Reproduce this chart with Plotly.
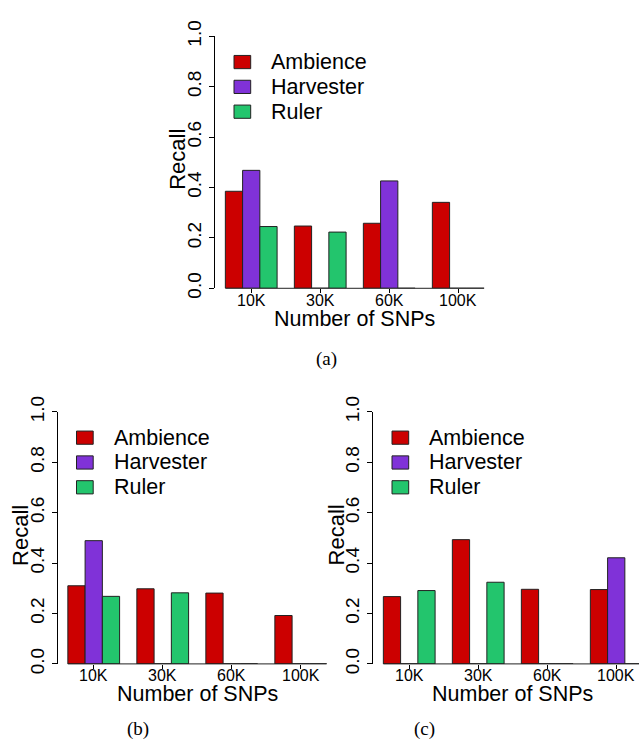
import plotly.graph_objects as go

# ---------------- data ----------------
categories = ["10K", "30K", "60K", "100K"]
series_names = ["Ambience", "Harvester", "Ruler"]
series_colors = ["#CC0000", "#8032D8", "#23C56D"]

recall_a_ambience = [0.385, 0.247, 0.258, 0.341]
recall_a_harvester = [0.468, 0.0, 0.426, 0.0]
recall_a_ruler = [0.245, 0.223, 0.0, 0.0]

recall_b_ambience = [0.310, 0.298, 0.281, 0.192]
recall_b_harvester = [0.489, 0.0, 0.0, 0.0]
recall_b_ruler = [0.268, 0.282, 0.0, 0.0]

recall_c_ambience = [0.267, 0.493, 0.296, 0.295]
recall_c_harvester = [0.0, 0.0, 0.0, 0.421]
recall_c_ruler = [0.291, 0.324, 0.0, 0.0]

y_ticks = [0.0, 0.2, 0.4, 0.6, 0.8, 1.0]
captions = ["(a)", "(b)", "(c)"]

# ---------------- layout helpers ----------------
W, H = 639, 755
UNIT = 17.25          # px per bar width
YSCALE = 261.0        # px per recall unit
FONT = "Liberation Sans, Arial, Helvetica, sans-serif"
SERIF = "Liberation Serif, Times New Roman, serif"


def fx(px):
    return px / W


def fy(py):
    return 1 - py / H


panels = [
    dict(left=215.0, y0=282.0, data=[recall_a_ambience, recall_a_harvester, recall_a_ruler],
         cap=(327, 355)),
    dict(left=57.5, y0=671.0, data=[recall_b_ambience, recall_b_harvester, recall_b_ruler],
         cap=(138, 738)),
    dict(left=373.0, y0=671.0, data=[recall_c_ambience, recall_c_harvester, recall_c_ruler],
         cap=(424, 738)),
]

fig = go.Figure()
shapes = []
annotations = []
layout_axes = {}

n_series = len(series_names)
group_w = n_series + 1
r0 = 0.4

for p_i, p in enumerate(panels):
    k = "" if p_i == 0 else str(p_i + 1)
    xa, ya = "x" + k, "y" + k
    left, y0 = p["left"], p["y0"]
    y1 = y0 - YSCALE
    right_full = left + (16.6 - r0) * UNIT
    right = min(right_full, W)
    r1 = r0 + (right - left) / UNIT

    for s_i, name in enumerate(series_names):
        xs = [1 + g * group_w + s_i + 0.5 for g in range(len(categories))]
        fig.add_trace(go.Bar(
            x=xs, y=p["data"][s_i], width=[1.0] * len(xs), name=name,
            marker=dict(color=series_colors[s_i], line=dict(color="#222222", width=1)),
            xaxis=xa, yaxis=ya, showlegend=False, cliponaxis=False,
            hovertext=categories,
        ))

    centers = [1 + g * group_w + (n_series - 1) / 2 + 0.5 for g in range(len(categories))]
    layout_axes["xaxis" + k] = dict(
        domain=[fx(left), fx(right)], range=[r0, r1], anchor=ya,
        showgrid=False, zeroline=False, showline=False,
        ticks="outside", ticklen=4, tickcolor="black", tickwidth=1,
        tickvals=centers, showticklabels=False,
    )
    layout_axes["yaxis" + k] = dict(
        domain=[fy(y0), fy(y1)], range=[0, 1], anchor=xa,
        showgrid=False, zeroline=False, showline=True, linecolor="black", linewidth=1,
        ticks="outside", ticklen=5, tickcolor="black", tickwidth=1,
        tickvals=y_ticks, tickformat=".1f", tickangle=-90,
        tickfont=dict(family=FONT, size=19, color="black"),
    )

    # category labels under each group (placed on the data x scale)
    for c, lab in zip(centers, categories):
        annotations.append(dict(
            text=lab, xref=xa, yref="paper", x=c, y=fy(y0 + 12.2),
            showarrow=False, xanchor="center", yanchor="middle",
            font=dict(family=FONT, size=16, color="black"),
        ))

    # baseline spanning all bar slots
    shapes.append(dict(
        type="line", xref=xa + " domain", yref=ya + " domain",
        x0=(1 - r0) / (r1 - r0), x1=(16 - r0) / (r1 - r0), y0=0, y1=0,
        line=dict(color="#222222", width=1),
    ))

    # axis titles
    annotations.append(dict(
        text="Recall", xref="paper", yref="paper", x=fx(left - 37), y=fy(y0 - 133),
        textangle=-90, showarrow=False, xanchor="center", yanchor="middle",
        font=dict(family=FONT, size=22, color="black"),
    ))
    annotations.append(dict(
        text="Number of SNPs", xref="paper", yref="paper",
        x=fx(left + (16.6 - r0) / 2 * UNIT), y=fy(y0 + 31.5),
        showarrow=False, xanchor="center", yanchor="middle",
        font=dict(family=FONT, size=21.5, color="black"),
    ))

    # legend
    for s_i, name in enumerate(series_names):
        yc = y1 + 26.7 + s_i * 25.7
        shapes.append(dict(
            type="rect", xref="paper", yref="paper",
            x0=fx(left + 19), x1=fx(left + 35.7), y0=fy(yc - 6.85), y1=fy(yc + 6.85),
            fillcolor=series_colors[s_i], line=dict(color="#222222", width=1),
        ))
        annotations.append(dict(
            text=name, xref="paper", yref="paper", x=fx(left + 54), y=fy(yc),
            showarrow=False, xanchor="left", yanchor="middle",
            font=dict(family=FONT, size=21.5, color="black"),
        ))

    # caption
    cx, cy = p["cap"]
    annotations.append(dict(
        text=captions[p_i], xref="paper", yref="paper", x=fx(cx), y=fy(cy),
        showarrow=False, xanchor="center", yanchor="middle",
        font=dict(family=SERIF, size=19, color="black"),
    ))

fig.update_layout(
    width=W, height=H, margin=dict(l=0, r=0, t=0, b=0),
    paper_bgcolor="white", plot_bgcolor="rgba(0,0,0,0)",
    barmode="overlay", shapes=shapes, annotations=annotations,
    **layout_axes,
)

fig.write_html("out.html")
